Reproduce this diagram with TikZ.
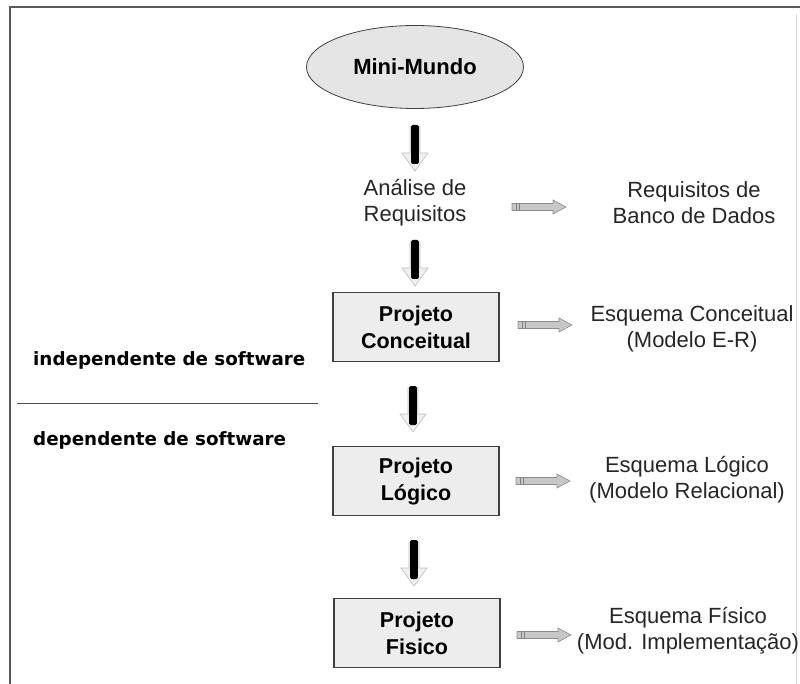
\documentclass[tikz,border=0pt]{standalone}
\usepackage{fontspec}
\setmainfont{Liberation Sans}
\newfontfamily\labfont{DejaVu Sans}
\usetikzlibrary{shapes.geometric}
\tikzset{
  txt/.style={align=center, font=\fontsize{22}{26}\selectfont, text=black!85, inner sep=0pt},
  boxnode/.style={draw=black!75, line width=1.2pt, fill=black!7, minimum width=166, minimum height=69,
    align=center, font=\fontsize{21.5}{27}\selectfont\bfseries, inner sep=0pt},
  sidelab/.style={anchor=west, font=\labfont\fontsize{18.3}{20}\selectfont\bfseries, inner sep=0pt},
  dnarrow/.pic={
    \filldraw[fill=black!6, draw=black!25, line width=0.6pt] (-13,6) -- (-5,6) -- (-5,-20) -- (5,-20) -- (5,6) -- (13,6) -- (0,24) -- cycle;
    \fill[black, rounded corners=1.5pt] (-3.8,-22) rectangle (3.8,17);
  },
  rtarrow/.pic={
    \filldraw[fill=black!22, draw=black!45, line width=0.6pt] (-27,-3.5) -- (14,-3.5) -- (14,-7) -- (27,0) -- (14,7) -- (14,3.5) -- (-27,3.5) -- cycle;
    \draw[black!50, line width=0.5pt] (-23,-3.5) -- (-23,3.5) (-20,-3.5) -- (-20,3.5);
  }
}
\begin{document}
\begin{tikzpicture}[x=1pt,y=-1pt]
\useasboundingbox (0,0) rectangle (800,684);
\fill[white] (0,0) rectangle (800,684);
% frame
\draw[black!65, line width=1.2pt] (10,684) -- (10,7) -- (800,7);
\draw[black!15, line width=0.8pt] (796,14) -- (796,684);

% nodes
\node[ellipse, draw=black!75, line width=0.8pt, fill=black!10, minimum width=217, minimum height=83, inner sep=0pt,
  font=\fontsize{22}{26}\selectfont\bfseries] (mm) at (415,67) {Mini-Mundo};
\node[txt] (ar) at (415,203) {Análise de\\Requisitos};
\node[boxnode] (pc) at (416,327) {Projeto\\Conceitual};
\node[boxnode] (pl) at (416,481) {Projeto\\Lógico};
\node[boxnode] (pf) at (417,633) {Projeto\\Fisico};

\node[txt] (rq) at (694,203) {Requisitos de\\Banco de Dados};
\node[txt] (ec) at (692,329) {Esquema Conceitual\\(Modelo E-R)};
\node[txt] (el) at (687,480) {Esquema Lógico\\(Modelo Relacional)};
\node[txt] (ef) at (688,631) {Esquema Físico\\(Mod. Implementação)};

% side labels
\node[sidelab] (ind) at (33,360) {independente de software};
\node[sidelab] (dep) at (33,440) {dependente de software};
\coordinate (sepL) at (17,403);
\coordinate (sepR) at (318,403);
\draw[black!70, line width=0.9pt] (sepL) -- (sepR);

% down arrows
\coordinate (d1) at (415,147);
\coordinate (d2) at (415,262);
\coordinate (d3) at (413,408);
\coordinate (d4) at (414,562);
\pic at (d1) {dnarrow};
\pic at (d2) {dnarrow};
\pic at (d3) {dnarrow};
\pic at (d4) {dnarrow};

% right arrows
\coordinate (r1) at (539,207);
\coordinate (r2) at (545,325);
\coordinate (r3) at (543,481);
\coordinate (r4) at (544,635);
\pic at (r1) {rtarrow};
\pic at (r2) {rtarrow};
\pic at (r3) {rtarrow};
\pic at (r4) {rtarrow};
\end{tikzpicture}
\end{document}
